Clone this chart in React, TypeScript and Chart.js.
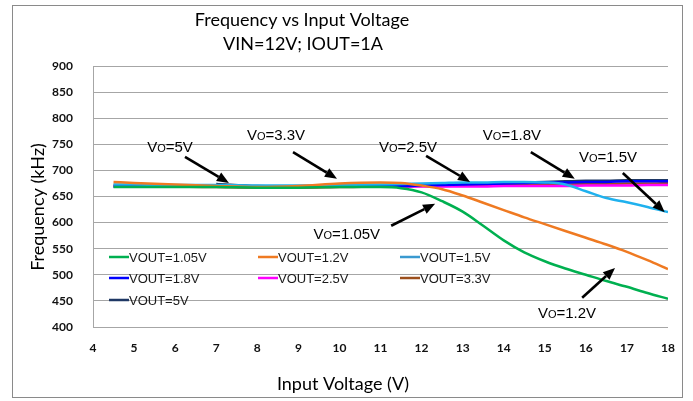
import React, { useEffect, useRef } from "react";
import { Chart, registerables } from "chart.js";

Chart.register(...registerables);

// ---------- data ----------
const inputVoltage = [4.5, 5, 6, 7, 8, 9, 10, 11, 11.5, 12, 12.5, 13, 13.5, 14, 14.5, 15, 15.5, 16, 16.5, 17, 17.5, 18];

const vout105 = [668, 668, 668, 668, 667, 667, 668, 668, 666, 658, 641, 621, 594, 566, 543, 526, 512, 500, 488, 477, 465, 454];
const vout12 = [678, 676, 673, 670, 668, 670, 675, 677, 676, 671, 664, 652, 638, 624, 610, 597, 584, 571, 558, 544, 528, 511];
const vout15 = [673, 673, 672, 672, 671, 671, 672, 673, 674, 675, 676, 677, 677, 678, 678, 677, 673, 660, 647, 639, 630, 620];
const vout18 = [669, 669, 669, 669, 669, 669, 669, 670, 670, 671, 672, 673, 674, 675, 676, 677, 677, 678, 678, 679, 679, 679];
const vout25 = [669, 669, 669, 669, 669, 669, 669, 669, 669, 669, 669, 669, 669, 670, 670, 670, 670, 671, 671, 671, 672, 672];
const vout33 = [672, 671, 669, 668, 667, 667, 668, 669, 669, 670, 670, 671, 671, 672, 672, 673, 673, 674, 674, 675, 675, 676];
const vout5 = [null, null, null, 674, 670, 669, 670, 670, 670, 671, 672, 673, 675, 676, 677, 678, 679, 680, 680, 681, 681, 681];

const seriesLabels = ["VOUT=1.05V", "VOUT=1.2V", "VOUT=1.5V", "VOUT=1.8V", "VOUT=2.5V", "VOUT=3.3V", "VOUT=5V"];
const seriesColors = ["#00b050", "#ef7a22", "#1fb1ee", "#0000ff", "#ff00ff", "#9c4f1c", "#1f3864"];
const legendSwatchColors = ["#00b050", "#ef7a22", "#3a9ad0", "#0000ff", "#ff00ff", "#9c4f1c", "#1f3864"];

const xMin = 4;
const xMax = 18;
const yMin = 400;
const yMax = 900;
const yStep = 50;

const titleLines = ["Frequency vs Input Voltage", "VIN=12V; IOUT=1A"];
const xAxisTitle = "Input Voltage (V)";
const yAxisTitle = "Frequency (kHz)";

// callouts (in data units)
const calloutValues = ["5V", "3.3V", "2.5V", "1.8V", "1.5V", "1.05V", "1.2V"];
const calloutTextX = [5.875, 8.456, 11.67, 14.2, 16.54, 10.18, 15.54];
const calloutTextY = [745, 768, 745, 768, 726, 580, 427];
const arrowFromX = [6.24, 8.87, 12.11, 14.66, 16.9, 11.26, 15.91];
const arrowFromY = [726, 735, 728, 735, 695, 594, 456];
const arrowToX = [7.31, 9.94, 13.18, 15.73, 17.92, 12.33, 16.71];
const arrowToY = [676, 684, 678, 684, 620, 636, 513];

const seriesValues = [vout105, vout12, vout15, vout18, vout25, vout33, vout5];

function drawArrow(ctx: CanvasRenderingContext2D, x0: number, y0: number, x1: number, y1: number) {
  const ang = Math.atan2(y1 - y0, x1 - x0);
  const headLen = 12;
  const headW = 5;
  const bx = x1 - headLen * Math.cos(ang);
  const by = y1 - headLen * Math.sin(ang);
  ctx.save();
  ctx.strokeStyle = "#000";
  ctx.fillStyle = "#000";
  ctx.lineWidth = 2.6;
  ctx.beginPath();
  ctx.moveTo(x0, y0);
  ctx.lineTo(bx, by);
  ctx.stroke();
  ctx.beginPath();
  ctx.moveTo(x1, y1);
  ctx.lineTo(bx + headW * Math.sin(ang), by - headW * Math.cos(ang));
  ctx.lineTo(bx - headW * Math.sin(ang), by + headW * Math.cos(ang));
  ctx.closePath();
  ctx.fill();
  ctx.restore();
}

function drawCalloutText(ctx: CanvasRenderingContext2D, cx: number, cy: number, value: string) {
  const big = "15px 'Liberation Sans', Arial, sans-serif";
  const small = "11px 'Liberation Sans', Arial, sans-serif";
  ctx.save();
  ctx.fillStyle = "#000";
  ctx.textBaseline = "alphabetic";
  ctx.textAlign = "left";
  ctx.font = big;
  const wV = ctx.measureText("V").width;
  const rest = "=" + value;
  const wRest = ctx.measureText(rest).width;
  ctx.font = small;
  const wO = ctx.measureText("O").width;
  const total = wV + wO + wRest;
  let x = cx - total / 2;
  const base = cy + 5.5;
  ctx.font = big;
  ctx.fillText("V", x, base);
  x += wV;
  ctx.font = small;
  ctx.fillText("O", x, base);
  x += wO;
  ctx.font = big;
  ctx.fillText(rest, x, base);
  ctx.restore();
}

const decorPlugin = {
  id: "decor",
  beforeDraw(chart: any) {
    const ctx: CanvasRenderingContext2D = chart.ctx;
    ctx.save();
    ctx.fillStyle = "#ffffff";
    ctx.fillRect(0, 0, chart.width, chart.height);
    ctx.strokeStyle = "#8a8a8a";
    ctx.lineWidth = 1;
    ctx.strokeRect(12.5, 5.5, 670, 392);
    ctx.restore();
  },
  afterDatasetsDraw(chart: any) {
    const ctx: CanvasRenderingContext2D = chart.ctx;
    const xs = chart.scales.x;
    const ys = chart.scales.y;
    const area = chart.chartArea;

    // legend
    const colX = [16, 165, 307];
    const rowY = [191, 212, 234];
    ctx.save();
    ctx.font = "13px 'Liberation Sans', Arial, sans-serif";
    ctx.textBaseline = "middle";
    ctx.textAlign = "left";
    seriesLabels.forEach((lab, i) => {
      const c = i % 3;
      const r = Math.floor(i / 3);
      const lx = area.left + colX[c];
      const ly = area.top + rowY[r];
      ctx.strokeStyle = legendSwatchColors[i];
      ctx.lineWidth = 2.5;
      ctx.beginPath();
      ctx.moveTo(lx, ly);
      ctx.lineTo(lx + 20, ly);
      ctx.stroke();
      ctx.fillStyle = "#1a1a1a";
      ctx.fillText(lab, lx + 20, ly + 1);
    });
    ctx.restore();

    // callouts
    calloutValues.forEach((v, i) => {
      drawCalloutText(ctx, xs.getPixelForValue(calloutTextX[i]), ys.getPixelForValue(calloutTextY[i]), v);
      drawArrow(
        ctx,
        xs.getPixelForValue(arrowFromX[i]),
        ys.getPixelForValue(arrowFromY[i]),
        xs.getPixelForValue(arrowToX[i]),
        ys.getPixelForValue(arrowToY[i])
      );
    });
  },
  afterDraw(chart: any) {
    const ctx: CanvasRenderingContext2D = chart.ctx;
    ctx.save();
    ctx.fillStyle = "#000";
    ctx.textAlign = "center";
    ctx.textBaseline = "middle";
    ctx.font = "18px Lato, 'Open Sans', sans-serif";
    ctx.fillText(titleLines[0], 302, 20);
    ctx.fillText(titleLines[1], 303, 44);
    ctx.font = "18px Lato, 'Open Sans', sans-serif";
    ctx.fillText(xAxisTitle, 343, 384);
    ctx.translate(38, 207);
    ctx.rotate(-Math.PI / 2);
    ctx.fillText(yAxisTitle, 0, 0);
    ctx.restore();
  },
};

export default function App() {
  const canvasRef = useRef<HTMLCanvasElement | null>(null);

  useEffect(() => {
    const canvas = canvasRef.current;
    if (!canvas) return;
    const datasets = seriesLabels.map((label, i) => ({
      label,
      data: inputVoltage.map((x, j) => ({ x, y: seriesValues[i][j] })),
      borderColor: seriesColors[i],
      backgroundColor: seriesColors[i],
      borderWidth: 2.5,
      pointRadius: 0,
      fill: false,
      cubicInterpolationMode: "monotone" as const,
      spanGaps: false,
    }));
    const chart = new Chart(canvas, {
      type: "line",
      data: { datasets },
      options: {
        animation: false,
        responsive: false,
        devicePixelRatio: 1,
        layout: { padding: { left: 10, top: 66, right: 25, bottom: 0 } },
        plugins: {
          legend: { display: false },
          title: { display: false },
          tooltip: { enabled: false },
        },
        scales: {
          x: {
            type: "linear",
            min: xMin,
            max: xMax,
            ticks: {
              stepSize: 1,
              color: "#111111",
              font: { family: "Lato, 'Open Sans', sans-serif", size: 12, weight: "bold" },
              padding: 14,
              maxRotation: 0,
            },
            grid: { display: false, drawTicks: false },
            border: { display: false },
            afterFit: (s: any) => {
              s.height = 74;
            },
          },
          y: {
            min: yMin,
            max: yMax,
            ticks: {
              stepSize: yStep,
              color: "#111111",
              font: { family: "Lato, 'Open Sans', sans-serif", size: 12, weight: "bold" },
              padding: 20,
            },
            grid: { color: "#a6a6a6", lineWidth: 1, drawTicks: false },
            border: { display: true, color: "#a6a6a6", width: 1 },
            afterFit: (s: any) => {
              s.width = 83;
            },
          },
        },
      },
      plugins: [decorPlugin],
    });
    return () => chart.destroy();
  }, []);

  return (
    <div style={{ position: "absolute", left: 0, top: 0, width: 693, height: 401 }}>
      <canvas ref={canvasRef} width={693} height={401} style={{ display: "block" }} />
    </div>
  );
}
